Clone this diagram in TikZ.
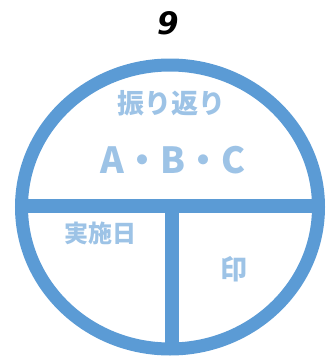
\documentclass[tikz,border=0pt]{standalone}
\usepackage{fontspec}
\newfontfamily\cjk{Noto Sans CJK JP Black}
\newfontfamily\titlefont{DejaVu Sans}
\definecolor{ringblue}{HTML}{5B9BD5}
\definecolor{textblue}{HTML}{9DC3E6}
\begin{document}
\begin{tikzpicture}[x=1pt,y=-1pt,
  ring/.style={draw=ringblue,line width=13pt},
  bar/.style={draw=ringblue,line width=14pt},
  lbl/.style={text=textblue,font=\cjk,inner sep=0pt}]
\useasboundingbox (0,0) rectangle (333,356);
\coordinate (c) at (170,207);
\begin{scope}
  \clip (c) ellipse [x radius=152, y radius=145];
  \coordinate (hl) at (0,205.5);
  \coordinate (hr) at (333,205.5);
  \coordinate (vt) at (172,205.5);
  \coordinate (vb) at (172,360);
  \draw[bar] (hl) -- (hr);
  \draw[bar] (vt) -- (vb);
\end{scope}
\draw[ring] (c) ellipse [x radius=148.5, y radius=142];
\node[inner sep=0pt,font=\titlefont\bfseries\itshape\fontsize{31}{33}\selectfont] (t) at (168,23) {9};
\node[lbl,font=\cjk\fontsize{27}{30}\selectfont] (a) at (171,103) {振り返り};
\node[lbl,font=\cjk\fontsize{36}{40}\selectfont] (b) at (173,160) {A・B・C};
\node[lbl,font=\cjk\fontsize{24}{28}\selectfont] (d) at (100,233) {実施日};
\node[lbl,font=\cjk\fontsize{27}{30}\selectfont] (e) at (234,269) {印};
\end{tikzpicture}
\end{document}
